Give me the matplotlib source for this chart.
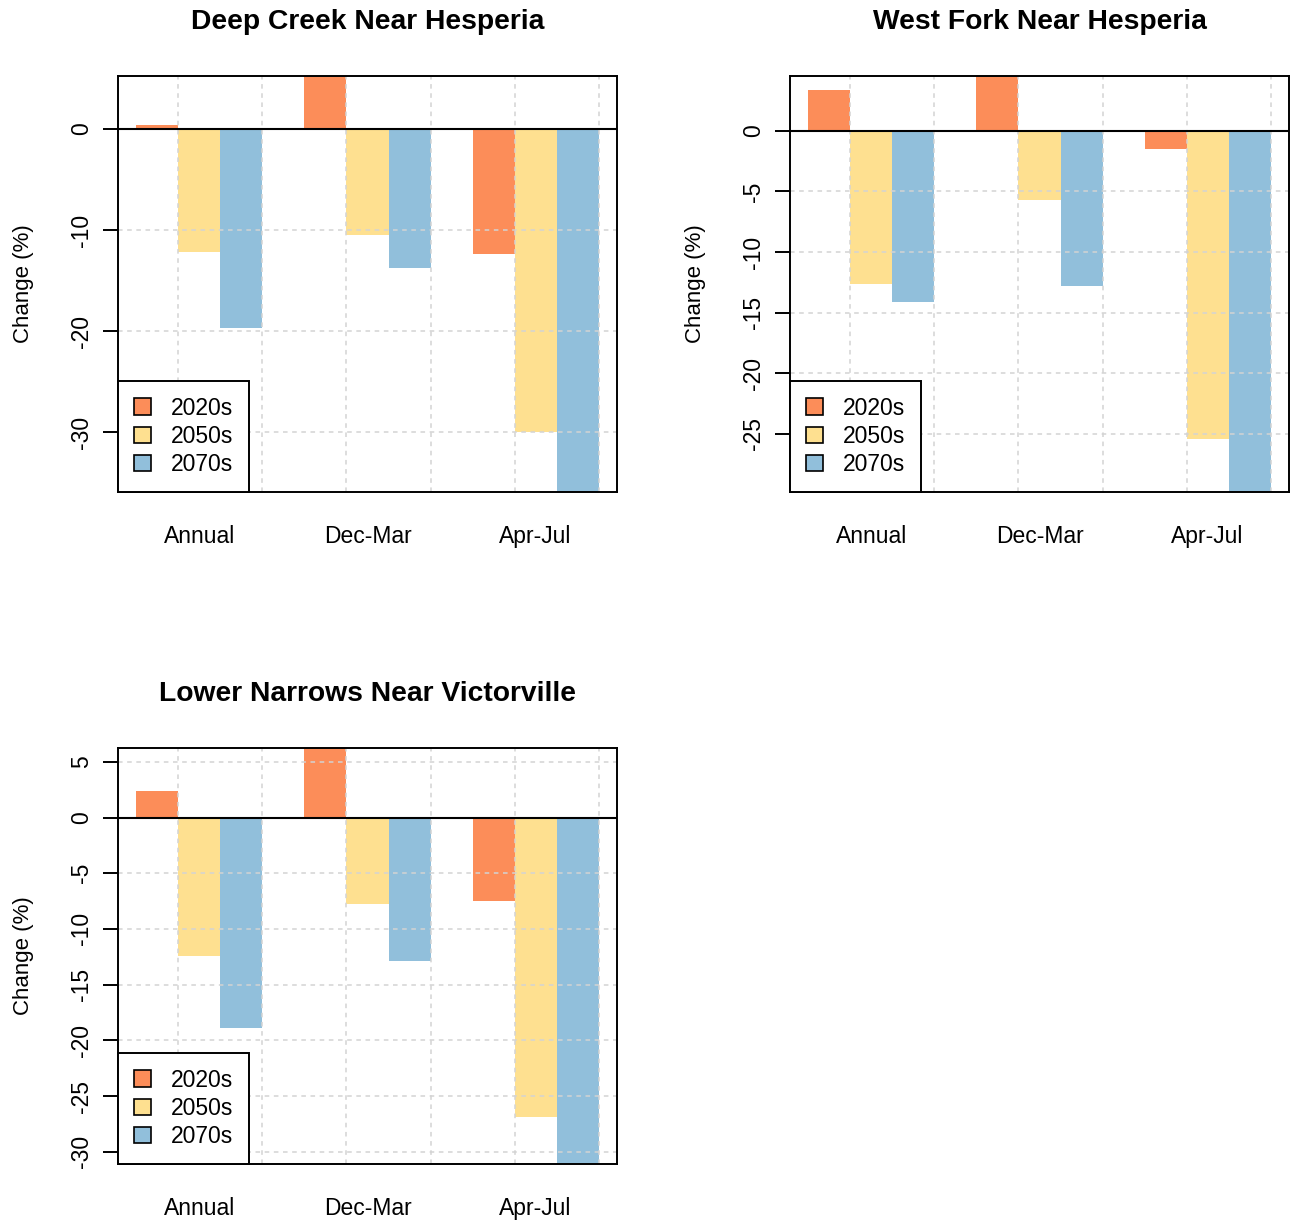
import matplotlib
matplotlib.use("Agg")
import matplotlib.pyplot as plt
from matplotlib.patches import Patch

plt.rcParams['font.family'] = ['Liberation Sans', 'DejaVu Sans']

# seasons on the x axis, one group of three bars each
periods = ['Annual', 'Dec-Mar', 'Apr-Jul']
decades = ['2020s', '2050s', '2070s']
colors = ['#FC8D59', '#FEE090', '#91BFDB']

# percent change in flow (clipped bars are estimates)
deep_creek_2020s = [0.4, 6.0, -12.4]
deep_creek_2050s = [-12.2, -10.5, -30.0]
deep_creek_2070s = [-19.7, -13.7, -37.0]

west_fork_2020s = [3.4, 5.2, -1.5]
west_fork_2050s = [-12.6, -5.7, -25.4]
west_fork_2070s = [-14.1, -12.8, -31.0]

lower_narrows_2020s = [2.4, 7.0, -7.5]
lower_narrows_2050s = [-12.4, -7.8, -26.9]
lower_narrows_2070s = [-18.9, -12.9, -33.0]

panels = [
    ("Deep Creek Near Hesperia",
     [deep_creek_2020s, deep_creek_2050s, deep_creek_2070s],
     (-35.9, 5.25), [0, -10, -20, -30]),
    ("West Fork Near Hesperia",
     [west_fork_2020s, west_fork_2050s, west_fork_2070s],
     (-29.8, 4.53), [0, -5, -10, -15, -20, -25]),
    ("Lower Narrows Near Victorville",
     [lower_narrows_2020s, lower_narrows_2050s, lower_narrows_2070s],
     (-31.1, 6.24), [5, 0, -5, -10, -15, -20, -25, -30]),
]

W, H = 1294, 1224
fig = plt.figure(figsize=(W / 100, H / 100), dpi=100)
# axes boxes in pixels: left, top
boxes = [(118, 76), (790, 76), (118, 748)]
bw, bh = 499, 416

for (title, series, ylim, yticks), (left, top) in zip(panels, boxes):
    ax = fig.add_axes([left / W, 1 - (top + bh) / H, bw / W, bh / H])
    for j, (vals, col) in enumerate(zip(series, colors)):
        xs = [1 + 4 * g + j for g in range(len(periods))]
        ax.bar(xs, vals, width=1, align='edge', color=col, linewidth=0, zorder=1)

    ax.set_xlim(0.56, 12.44)
    ax.set_ylim(*ylim)

    # R style dotted grid drawn over the bars
    for gx in range(2, 13, 2):
        ax.axvline(gx, color='#D3D3D3', lw=1.1, ls=(0, (3, 3)), zorder=2)
    for gy in yticks:
        ax.axhline(gy, color='#D3D3D3', lw=1.1, ls=(0, (3, 3)), zorder=2)
    ax.axhline(0, color='black', lw=1.5, zorder=3)

    ax.set_xticks([2.5, 6.5, 10.5], periods)
    ax.tick_params(axis='x', length=0, pad=24, labelsize=16.5)
    ax.set_yticks(yticks)
    ax.set_yticklabels([str(t) for t in yticks])
    ax.tick_params(axis='y', length=10.8, width=1.4, pad=7, labelsize=16.5)
    for lab in ax.get_yticklabels():
        lab.set_rotation(90)
        lab.set_va('center')

    for sp in ax.spines.values():
        sp.set_linewidth(1.4)
        sp.set_zorder(4)

    ax.text(-94 / bw, 0.5, 'Change (%)', rotation=90, ha='center', va='center',
            fontsize=16, transform=ax.transAxes)
    ax.text(0.5, 1 + 54 / bh, title, ha='center', va='center',
            fontsize=20.3, fontweight='bold', transform=ax.transAxes)

    handles = [Patch(facecolor=c, edgecolor='black', linewidth=1.2) for c in colors]
    leg = ax.legend(handles, decades, loc='lower left', bbox_to_anchor=(0, 0),
                    borderaxespad=0, fontsize=16.5, handlelength=0.75,
                    handleheight=0.75, handletextpad=0.85, labelspacing=0.22,
                    borderpad=0.7, fancybox=False, framealpha=1,
                    edgecolor='black')
    leg.get_frame().set_linewidth(1.4)
    leg.set_zorder(5)

fig.savefig('out.png', dpi=100)
